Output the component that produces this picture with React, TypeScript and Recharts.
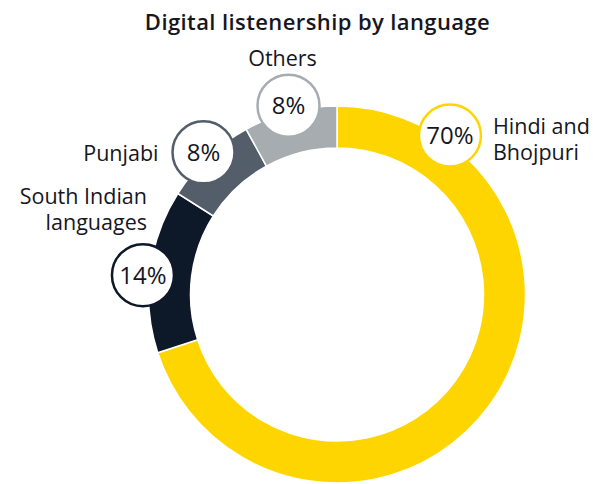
import React from 'react';
import { PieChart, Pie, Cell } from 'recharts';

const categories = ['Hindi and Bhojpuri', 'South Indian languages', 'Punjabi', 'Others'];
const values = [70, 14, 8, 8];
const nameLines = [['Hindi and', 'Bhojpuri'], ['South Indian', 'languages'], ['Punjabi'], ['Others']];
const colors = ['#FFD500', '#0D1829', '#535E6A', '#A7ACB1'];
const title = 'Digital listenership by language';

const data = categories.map((c, i) => ({ name: c, value: values[i] }));

const FONT = '"Open Sans", Roboto, sans-serif';
const TEXT = '#16161e';
const RAD = Math.PI / 180;

// relative placement of name text with respect to the bubble centre (styling only)
const nameLayout = [
  { dx: 43, dy: [-2, 24], anchor: 'start' },
  { dx: 4, dy: [-71, -45], anchor: 'end' },
  { dx: -45, dy: [9], anchor: 'end' },
  { dx: -6, dy: [-40], anchor: 'middle' },
];

const renderLabel = (props: any) => {
  const { cx, cy, outerRadius, midAngle, startAngle, index, value } = props;
  const ang = index === 0 ? startAngle - 35.4 : index === 1 ? midAngle + 1.5 : midAngle;
  const r = outerRadius + 6.5;
  const x = cx + r * Math.cos(-ang * RAD);
  const y = cy + r * Math.sin(-ang * RAD);
  const lay = nameLayout[index];
  return (
    <g key={`lbl-${index}`}>
      <circle cx={x} cy={y} r={31} fill="#ffffff" stroke={colors[index]} strokeWidth={2.5} />
      <text x={x} y={y + 8.5} textAnchor="middle" fontFamily={FONT} fontSize={24} fill={TEXT}>
        {`${value}%`}
      </text>
      {nameLines[index].map((ln, k) => (
        <text
          key={k}
          x={x + lay.dx}
          y={y + lay.dy[k]}
          textAnchor={lay.anchor as any}
          fontFamily={FONT}
          fontSize={21.5}
          fill={TEXT}
        >
          {ln}
        </text>
      ))}
    </g>
  );
};

export default function App() {
  return (
    <div style={{ position: 'absolute', left: 0, top: 0, width: 593, height: 484, background: '#fff' }}>
      <div
        style={{
          position: 'absolute',
          left: 0,
          top: 6,
          width: 635,
          textAlign: 'center',
          fontFamily: FONT,
          fontWeight: 600,
          fontSize: 22,
          letterSpacing: 0.4,
          color: TEXT,
          lineHeight: '30px',
        }}
      >
        {title}
      </div>
      <PieChart
        width={593}
        height={484}
        margin={{ top: 0, right: 0, bottom: 0, left: 0 }}
        style={{ position: 'absolute', left: 0, top: 0 }}
      >
        <Pie
          data={data}
          dataKey="value"
          nameKey="name"
          cx={337}
          cy={294.5}
          innerRadius={146.5}
          outerRadius={188.5}
          startAngle={90}
          endAngle={-270}
          stroke="#ffffff"
          strokeWidth={1.5}
          label={renderLabel}
          labelLine={false}
          isAnimationActive={false}
        >
          {data.map((d, i) => (
            <Cell key={d.name} fill={colors[i]} />
          ))}
        </Pie>
      </PieChart>
    </div>
  );
}
